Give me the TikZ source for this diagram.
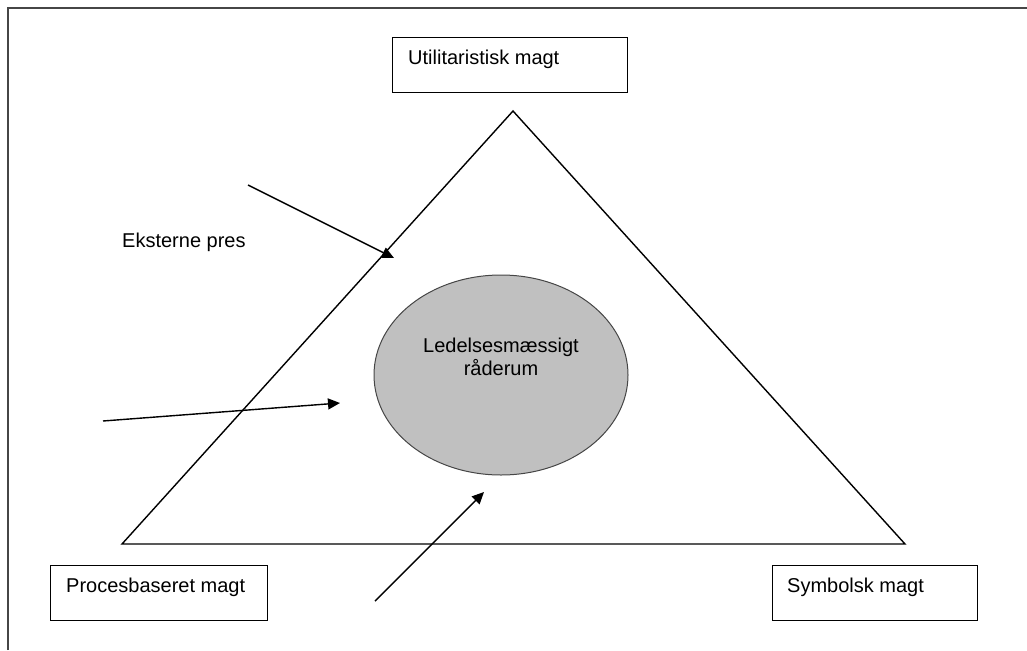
\documentclass[tikz,border=0pt]{standalone}
\usepackage{fontspec}
\setmainfont{Liberation Sans}
\usetikzlibrary{arrows.meta,shapes.geometric}
\definecolor{framegray}{RGB}{70,70,70}
\definecolor{ellgray}{RGB}{192,192,192}
\tikzset{
  box/.style={draw=black, line width=1.4pt, rectangle, minimum width=#1, minimum height=55pt, anchor=north west, inner sep=0pt},
  lab/.style={font=\fontsize{20}{23}\selectfont, inner sep=0pt, anchor=base west},
  edge/.style={draw=black, line width=1.4pt},
  arr/.style={draw=black, line width=1.4pt, -{Triangle[length=12pt,width=11pt]}},
}
\begin{document}
\begin{tikzpicture}[x=1pt,y=-1pt]
\useasboundingbox (0,0) rectangle (1027,650);
% frame
\draw[framegray, line width=2.2pt] (8,650) -- (8,8) -- (1027,8);
% boxes
\node[box=235pt] (u) at (392,37) {};
\node[lab] (ut) at ([xshift=16pt,yshift=-28pt]u.north west) {Utilitaristisk magt};
\node[box=217pt] (p) at (50,565) {};
\node[lab] (pt) at ([xshift=16pt,yshift=-27pt]p.north west) {Procesbaseret magt};
\node[box=205pt] (s) at (772,565) {};
\node[lab] (st) at ([xshift=15pt,yshift=-27pt]s.north west) {Symbolsk magt};
% triangle
\coordinate (apex) at (513,111);
\coordinate (bl) at (122,544);
\coordinate (br) at (905,544);
\draw[edge, line join=miter] (apex) -- (bl) -- (br) -- cycle;
% ellipse
\node[ellipse, draw=framegray, line width=1pt, fill=ellgray, minimum width=254pt, minimum height=200pt, inner sep=0pt] (e) at (501,375) {};
\node[font=\fontsize{20}{23}\selectfont, align=center, inner sep=0pt, anchor=base] (et) at (501,375) {Ledelsesmæssigt\\råderum};
% label
\node[lab] (ext) at (122,247) {Eksterne pres};
% arrows
\coordinate (a1s) at (248,185);
\coordinate (a1e) at (394,258);
\coordinate (a2s) at (103,421);
\coordinate (a2e) at (340,403);
\coordinate (a3s) at (375,601);
\coordinate (a3e) at (484,492);
\draw[arr] (a1s) -- (a1e);
\draw[arr] (a2s) -- (a2e);
\draw[arr] (a3s) -- (a3e);
\end{tikzpicture}
\end{document}
